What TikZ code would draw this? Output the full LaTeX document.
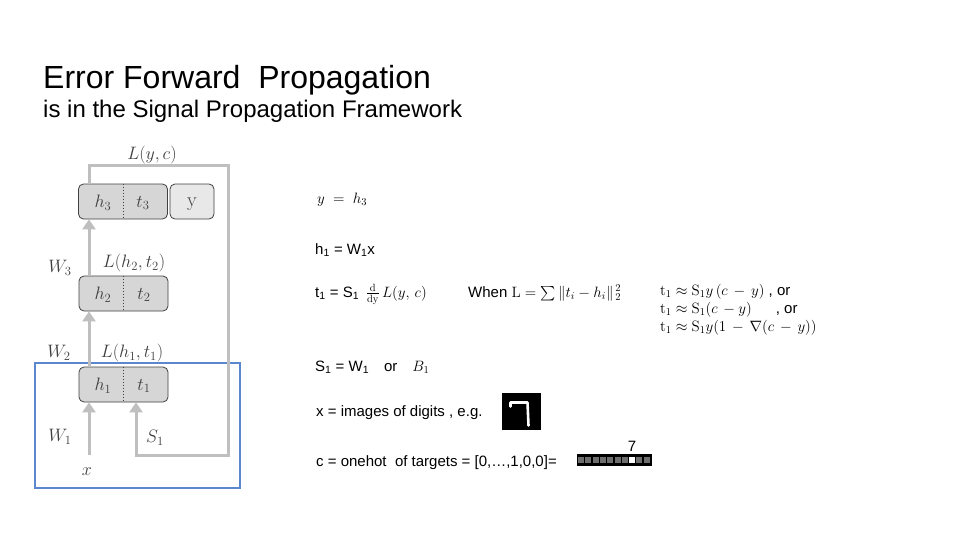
\RequirePackage{fix-cm}
\documentclass[tikz,border=0pt]{standalone}
\usepackage{amsmath}
\usepackage[no-math]{fontspec}
\setmainfont{Liberation Sans}
\usetikzlibrary{arrows.meta}
\definecolor{arrgray}{HTML}{BFBFBF}
\definecolor{lblgray}{HTML}{3F3F3F}
\definecolor{boxedge}{HTML}{404040}
\definecolor{boxfill}{HTML}{D6D6D6}
\definecolor{yfill}{HTML}{E8E8E8}
\definecolor{frameblue}{HTML}{5B87CF}
\definecolor{cellgray}{HTML}{6E6E6E}
\begin{document}
\begin{tikzpicture}[x=1pt,y=-1pt,
  box/.style={draw=boxedge, line width=0.8pt, fill=boxfill, rounded corners=5pt, minimum width=89pt, minimum height=35pt, inner sep=0pt},
  ybox/.style={box, fill=yfill, minimum width=44pt},
  lbl/.style={text=lblgray, inner sep=0pt, font=\fontsize{18}{21}\selectfont},
  arr/.style={draw=arrgray, line width=3pt, -{Triangle[length=10pt,width=13pt]}},
  txt/.style={anchor=base west, inner sep=0pt, font=\fontsize{15}{18}\selectfont},
  divider/.style={draw=boxedge, line width=1pt, dotted}
]
\useasboundingbox (0,0) rectangle (960,540);

% title
\node[anchor=base west, inner sep=0pt, font=\fontsize{32}{38}\selectfont] (title) at (43,89) {Error Forward~ Propagation};
\node[anchor=base west, inner sep=0pt, font=\fontsize{24}{29}\selectfont] (subtitle) at (43,118) {is in the Signal Propagation Framework};

% blue frame
\node[draw=frameblue, line width=1.6pt, minimum width=205pt, minimum height=125pt, inner sep=0pt] (frame) at (137.5,425.5) {};

% boxes
\node[box] (b3) at (123,201.5) {};
\node[ybox] (by) at (192,201.5) {};
\node[box] (b2) at (123.5,293.5) {};
\node[box] (b1) at (123.5,384.5) {};
\draw[divider] (b3.north) -- (b3.south);
\draw[divider] (b2.north) -- (b2.south);
\draw[divider] (b1.north) -- (b1.south);

\node[lbl] (h3) at (103,203) {$h_3$};
\node[lbl] (t3) at (143,203) {$t_3$};
\node[lbl, font=\fontsize{20}{24}\selectfont] (yy) at (192,204) {$\mathrm{y}$};
\node[lbl] (h2) at (103,295) {$h_2$};
\node[lbl] (t2) at (144,295) {$t_2$};
\node[lbl] (h1) at (103,386) {$h_1$};
\node[lbl] (t1) at (144,386) {$t_1$};

% labels
\node[lbl] (Lyc) at (152,155) {$L(y,c)$};
\node[lbl] (W3) at (60,268) {$W_3$};
\node[lbl] (Lh2) at (134,263) {$L(h_2,t_2)$};
\node[lbl] (W2) at (59,353) {$W_2$};
\node[lbl] (Lh1) at (132,353) {$L(h_1,t_1)$};
\node[lbl] (W1) at (60,437) {$W_1$};
\node[lbl] (S1) at (155,438) {$S_1$};
\node[lbl] (xl) at (87,472) {$x$};

% connectors
\coordinate (xs) at (89,455);
\coordinate (ftl) at (89,166);
\coordinate (ftr) at (228,166);
\coordinate (fbr) at (228,455);
\coordinate (fbl) at (136,455);
\draw[arr] (xs) -- (b1.south -| xs);
\draw[arr] (b1.north -| xs) -- (b2.south -| xs);
\draw[arr] (b2.north -| xs) -- (b3.south -| xs);
\draw[arr, line join=miter] (b3.north -| ftl) -- (ftl) -- (ftr) -- (fbr) -- (fbl) -- (b1.south -| fbl);

% right-hand text
\node[txt] (eq1) at (317,203) {$y \;=\; h_3$};
\node[txt] (eq2) at (315,254) {h\textsubscript{1} = W\textsubscript{1}x};
\node[txt] (eq3) at (315,297) {t\textsubscript{1} = S\textsubscript{1}\, $\tfrac{\mathrm{d}}{\mathrm{dy}}\,L(y,\,c)$};
\node[txt] (eq4) at (468,297) {When $\mathrm{L} = \sum\,\lVert t_i - h_i\rVert_{\,2}^{\,2}$};
\node[txt] (ap1) at (660,295) {$\mathrm{t}_1 \approx \mathrm{S}_1 y\,(c\,-\,y)$ , or};
\node[txt] (ap2) at (660,313) {$\mathrm{t}_1 \approx \mathrm{S}_1 (c\,-y)$\hspace{1.6em}, or};
\node[txt] (ap3) at (660,331) {$\mathrm{t}_1 \approx \mathrm{S}_1 y(1\,-\,\nabla(c\,-\,y))$};
\node[txt] (eq5) at (315,371) {S\textsubscript{1} = W\textsubscript{1}\hspace{1em}or\hspace{1em}$B_1$};
\node[txt] (eq6) at (316,416) {x = images of digits , e.g.};
\node[txt] (eq7) at (316,466) {c = onehot~ of targets = [0,\ldots,1,0,0]=};

% digit image
\node[fill=black, minimum width=39pt, minimum height=37pt, inner sep=0pt] (digit) at (521.5,411.5) {};
\draw[white, line width=2.6pt, line cap=round, line join=round] ([shift={(-11,-5)}]digit.center) -- ([shift={(-11,-9)}]digit.center) -- ([shift={(6,-9)}]digit.center) -- ([shift={(7,14)}]digit.center);

% onehot bar
\node[fill=black, minimum width=75pt, minimum height=12pt, inner sep=0pt] (onehot) at (614.5,460) {};
\foreach \i in {0,...,9} {
  \ifnum\i=7
    \node[fill=white, minimum size=6pt, inner sep=0pt] (cell\i) at (581+7.3*\i,460) {};
  \else
    \node[fill=cellgray, minimum size=6pt, inner sep=0pt] (cell\i) at (581+7.3*\i,460) {};
  \fi
}
\node[anchor=base, inner sep=0pt, font=\fontsize{15}{18}\selectfont] (seven) at (cell7.north |- 0,451) {7};
\end{tikzpicture}
\end{document}
